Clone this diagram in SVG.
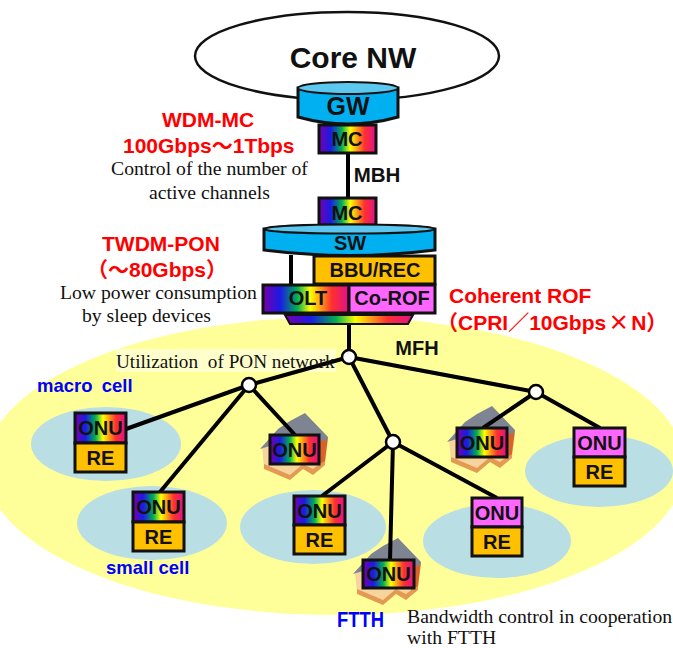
<svg xmlns="http://www.w3.org/2000/svg" xmlns:xlink="http://www.w3.org/1999/xlink" width="673" height="648" viewBox="0 0 673 648">
<style>
.box{stroke:#111;stroke-width:3}
.rb{fill:url(#rainbow)}
.pk{fill:#ff66ff}
.or{fill:#ffc000}
.cell{fill:#b9dfe4}
.wire{fill:none;stroke:#000;stroke-width:4}
.jn{fill:#fff;stroke:#000;stroke-width:2.5}
.t{font-family:"Liberation Sans",Arial,sans-serif;font-weight:bold;fill:#111;text-anchor:middle;font-size:20px}
.red{font-family:"Liberation Sans","Noto Sans CJK JP",sans-serif;font-weight:bold;fill:#ff0000;font-size:21px}
.blue{font-family:"Liberation Sans",sans-serif;font-weight:bold;fill:#0000ff;font-size:18.500px}
.note{font-family:"Liberation Serif",serif;fill:#111;font-size:19.700px}
.cyl{fill:#00b0f0;stroke:#111;stroke-width:3}
.cyltop{fill:#5cc8f0;stroke:#111;stroke-width:2}
</style>
<defs>
<linearGradient id="rainbow" x1="0" x2="1" y1="0" y2="0">
<stop offset="0" stop-color="#7a00a8"/><stop offset=".2" stop-color="#1a1ae6"/><stop offset=".4" stop-color="#00b050"/><stop offset=".55" stop-color="#ffff00"/><stop offset=".8" stop-color="#ff3030"/><stop offset="1" stop-color="#e0108a"/>
</linearGradient>
<g id="house">
<path d="M-8 12L-6 33L20 44L33 33L43 39L55 29L58 4L40-4Z" fill="#f6d49c"/>
<path d="M-6 29L20 40L33 29L43 34L55 25L55 30L43 40L33 34L20 45L-6 34Z" fill="#e39a52"/>
<path d="M48 6L58 2L55 26L48 30Z" fill="#d9622a"/>
<path d="M-10 14L8-6L20-14L35-22L58 2L56 6L30 2Z" fill="#7f8492"/>
</g>
</defs>
<rect width="673" height="648" fill="#fff"/>
<ellipse id="service-area" cx="335" cy="466" rx="350" ry="149" fill="#ffff99"/>
<rect x="116" y="349" width="220" height="23" fill="#ffffcc"/>
<ellipse class="cell" cx="106" cy="444" rx="75" ry="37"/>
<ellipse class="cell" cx="152" cy="523" rx="75" ry="37"/>
<ellipse class="cell" cx="313" cy="527" rx="73" ry="37"/>
<ellipse class="cell" cx="599" cy="471" rx="74" ry="36"/>
<ellipse class="cell" cx="497" cy="541" rx="74" ry="37"/>
<g id="core"><ellipse cx="347" cy="56" rx="152" ry="44" fill="#fff" stroke="#111" stroke-width="2.500"/><text class="t" x="353" y="68" style="font-size:30px">Core NW</text></g>
<g id="house-icons"><use xlink:href="#house" href="#house" x="270" y="435"/><use xlink:href="#house" href="#house" x="363" y="560"/><use xlink:href="#house" href="#house" x="457" y="428"/></g>
<g id="connectors" class="wire">
<path d="M348 153V198"/><path d="M291 255V285"/><path d="M349 324V357"/>
<path d="M349 357L249 385"/><path d="M349 357L536 392"/><path d="M349 357L393 442"/>
<path d="M249 385L126 429"/><path d="M249 385L160 492"/><path d="M249 385L295 435"/>
<path d="M393 442L322 496"/><path d="M393 442L390 560"/><path d="M393 442L497 498"/>
<path d="M536 392L483 428"/><path d="M536 392L600 428"/>
</g>
<g id="gw"><path class="cyl" d="M298 88V117Q348 131 398 117V88Z"/><ellipse class="cyltop" cx="348" cy="88" rx="50" ry="6"/><text class="t" x="348" y="115" style="font-size:25px">GW</text></g>
<g id="mc1"><rect class="box rb" x="319" y="125" width="57" height="28"/><text class="t" x="347" y="146">MC</text></g>
<g id="mc2"><rect class="box rb" x="319" y="198" width="57" height="27"/><text class="t" x="347" y="220">MC</text></g>
<g id="sw"><path class="cyl" d="M264 229V250Q350 261 435 250V229Z"/><ellipse class="cyltop" cx="349.500" cy="229" rx="85.500" ry="4.500"/><text class="t" x="350" y="250">SW</text></g>
<g id="bbu"><rect class="box or" x="314" y="256" width="121" height="28"/><text class="t" x="375" y="277">BBU/REC</text></g>
<g id="olt"><rect class="box rb" x="263" y="285" width="86" height="28"/><text class="t" x="308" y="305">OLT</text></g>
<g id="corof"><rect class="box pk" x="349" y="285" width="86" height="28"/><text class="t" x="392" y="305">Co-ROF</text></g>
<g id="splitter"><path d="M285 315H413L408 324H290Z" fill="url(#rainbow)" stroke="#111" stroke-width="2"/></g>
<circle class="jn" id="j1" cx="349" cy="357" r="7"/>
<circle class="jn" id="j2" cx="249" cy="385" r="7"/>
<circle class="jn" id="j3" cx="536" cy="392" r="7"/>
<circle class="jn" id="j4" cx="393" cy="442" r="7"/>
<g id="onu-macro"><rect class="box rb" x="75" y="413" width="51" height="30"/><rect class="box or" x="75" y="443" width="51" height="29"/><text class="t" x="100.500" y="435">ONU</text><text class="t" x="100.500" y="465">RE</text></g>
<g id="onu-small"><rect class="box rb" x="133" y="492" width="51" height="30"/><rect class="box or" x="133" y="522" width="51" height="29"/><text class="t" x="158.500" y="514">ONU</text><text class="t" x="158.500" y="544">RE</text></g>
<g id="onu-mid"><rect class="box rb" x="294" y="496" width="51" height="29"/><rect class="box or" x="294" y="525" width="51" height="29"/><text class="t" x="319.500" y="518">ONU</text><text class="t" x="319.500" y="547">RE</text></g>
<g id="onu-pink1"><rect class="box pk" x="574" y="428" width="51" height="29"/><rect class="box or" x="574" y="457" width="51" height="29"/><text class="t" x="599.500" y="450">ONU</text><text class="t" x="599.500" y="479">RE</text></g>
<g id="onu-pink2"><rect class="box pk" x="472" y="498" width="50" height="29"/><rect class="box or" x="472" y="527" width="50" height="29"/><text class="t" x="497" y="520">ONU</text><text class="t" x="497" y="549">RE</text></g>
<g id="onu-house1"><rect class="box rb" x="270" y="435" width="49" height="29"/><text class="t" x="294.500" y="457">ONU</text></g>
<g id="onu-house2"><rect class="box rb" x="363" y="560" width="51" height="28"/><text class="t" x="388.500" y="581">ONU</text></g>
<g id="onu-house3"><rect class="box rb" x="457" y="428" width="50" height="29"/><text class="t" x="482" y="450">ONU</text></g>
<g id="labels">
<text class="t" x="377" y="182" style="font-size:20.500px">MBH</text>
<text class="t" x="417" y="355">MFH</text>
<text class="red" x="162" y="127">WDM-MC</text>
<text class="red" x="123" y="153">100Gbps～1Tbps</text>
<text class="note" x="111" y="175">Control of the number of</text>
<text class="note" x="149" y="199">active channels</text>
<text class="red" x="102" y="251">TWDM-PON</text>
<text class="red" x="87" y="277">（～80Gbps）</text>
<text class="note" x="60" y="299">Low power consumption</text>
<text class="note" x="82" y="322">by sleep devices</text>
<text class="red" x="449" y="303">Coherent ROF</text>
<text class="red" x="437" y="330">（CPRI／10Gbps<tspan font-family="Noto Sans CJK JP" dx="2">×</tspan><tspan dx="2">N）</tspan></text>
<text class="note" x="116" y="368" style="font-size:19.200px">Utilization <tspan dx="5">of PON network</tspan></text>
<text class="blue" x="37" y="392" word-spacing="4">macro cell</text>
<text class="blue" x="106" y="574">small cell</text>
<text class="blue" x="337" y="627" style="font-size:22px" textLength="47" lengthAdjust="spacingAndGlyphs">FTTH</text>
<text class="note" x="407" y="623">Bandwidth control in cooperation</text>
<text class="note" x="407" y="643.500">with FTTH</text>
</g>
</svg>
